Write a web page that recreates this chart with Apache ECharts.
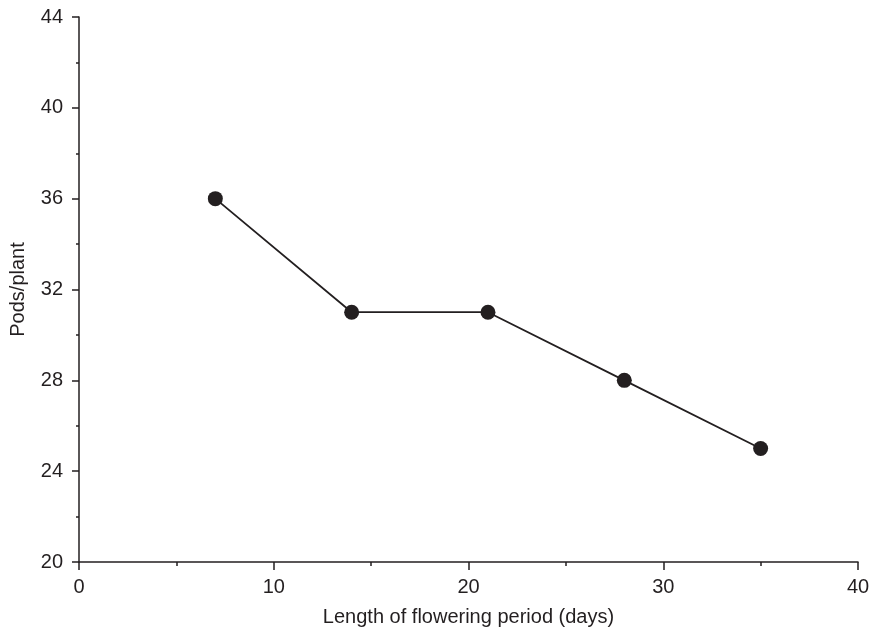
<!DOCTYPE html>
<html>
<head>
<meta charset="utf-8">
<script src="https://cdn.jsdelivr.net/npm/echarts@6/dist/echarts.min.js"></script>
<style>html,body{margin:0;padding:0;background:#fff;}#c{width:874px;height:629px;}</style>
</head>
<body>
<div id="c"></div>
<script>
var xValues = [7, 14, 21, 28, 35];
var podsPerPlant = [36, 31, 31, 28, 25];
var xTicks = [0, 10, 20, 30, 40];
var yTicks = [20, 24, 28, 32, 36, 40, 44];

var ink = '#231f20';
var font = 'Liberation Sans, Arial, Helvetica, sans-serif';
var chart = echarts.init(document.getElementById('c'));
chart.setOption({
  animation: false,
  backgroundColor: '#fff',
  grid: {left: 79, right: 16, top: 17, bottom: 67, containLabel: false, outerBoundsMode: 'none'},
  xAxis: {
    type: 'value', min: xTicks[0], max: xTicks[xTicks.length - 1], interval: 10,
    name: 'Length of flowering period (days)', nameLocation: 'middle', nameGap: 45,
    nameTextStyle: {color: ink, fontSize: 20, fontFamily: font},
    axisLine: {show: true, onZero: false, lineStyle: {color: ink, width: 1.5}},
    axisTick: {show: true, inside: false, length: 8, lineStyle: {color: ink, width: 1.5}},
    minorTick: {show: true, splitNumber: 2, length: 4, lineStyle: {color: ink, width: 1.5}},
    axisLabel: {color: ink, fontSize: 20, fontFamily: font, margin: 15},
    splitLine: {show: false}
  },
  yAxis: {
    type: 'value', min: yTicks[0], max: yTicks[yTicks.length - 1], interval: 4,
    name: 'Pods/plant', nameLocation: 'middle', nameGap: 51,
    nameTextStyle: {color: ink, fontSize: 20, fontFamily: font},
    axisLine: {show: true, onZero: false, lineStyle: {color: ink, width: 1.5}},
    axisTick: {show: true, inside: false, length: 7, lineStyle: {color: ink, width: 1.5}},
    minorTick: {show: true, splitNumber: 2, length: 3, lineStyle: {color: ink, width: 1.5}},
    axisLabel: {color: ink, fontSize: 20, fontFamily: font, margin: 16},
    splitLine: {show: false}
  },
  series: [{
    type: 'line',
    data: xValues.map(function (x, i) { return [x, podsPerPlant[i]]; }),
    symbol: 'circle', symbolSize: 15,
    lineStyle: {color: ink, width: 1.8},
    itemStyle: {color: ink},
    z: 3
  }]
});
</script>
</body>
</html>
